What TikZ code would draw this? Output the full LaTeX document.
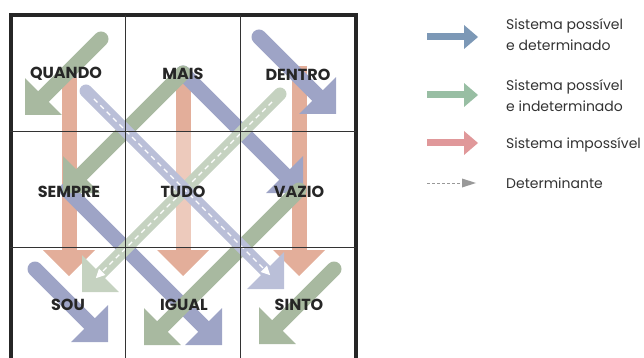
\documentclass[tikz,border=0pt]{standalone}
\usepackage{fontspec}
\setmainfont{Poppins}
\usetikzlibrary{arrows.meta,calc}

\definecolor{spdblue}{RGB}{158,164,198}
\definecolor{spiblue}{RGB}{186,191,216}
\definecolor{spigreen}{RGB}{168,185,160}
\definecolor{spilight}{RGB}{197,210,192}
\definecolor{sired}{RGB}{227,174,154}
\definecolor{sirlight}{RGB}{237,202,188}
\definecolor{legblue}{RGB}{124,152,182}
\definecolor{leggreen}{RGB}{152,190,163}
\definecolor{legred}{RGB}{224,152,154}

\begin{document}
\begin{tikzpicture}[x=1pt,y=-1pt,
    word/.style={
      font=\bfseries\fontsize{16}{16}\selectfont,
      text=black!85,inner sep=1pt
    },
    legtext/.style={
      font=\fontsize{14}{21}\selectfont,
      text=black!80,align=left,anchor=west,inner sep=0pt
    },
    bigarrow/.style={
      line width=15pt,
      -{Triangle[length=26pt,width=52pt,line width=0pt]}
    },
    diagarrow/.style={
      bigarrow,
      line cap=round
    },
    detarrow/.style={
      diagarrow,
      line width=13pt
    },
    detline/.style={
      white,line width=1.3pt,
      dash pattern=on 5pt off 4pt,
      -{Triangle[length=9pt,width=9pt,line width=0pt]}
    },
    legarrow/.style={
      line width=7pt,
      -{Triangle[length=14pt,width=24pt,line width=0pt]}
    },
    gridline/.style={
      black!80,line width=1pt
    }]

  \useasboundingbox (0,0) rectangle (644,358);
  \clip (0,0) rectangle (644,358);

  % arrow ends
  \coordinate (r1a) at (69,78);   \coordinate (r1b) at (69,276);
  \coordinate (r2a) at (183,83);  \coordinate (r2b) at (183,276);
  \coordinate (r3a) at (299,66);  \coordinate (r3b) at (299,276);
  \coordinate (r2m) at (183,131); \coordinate (r2n) at (183,247);

  \coordinate (b1a) at (259,37);  \coordinate (b1b) at (336,114);
  \coordinate (b2a) at (183,73);  \coordinate (b2b) at (303,193);
  \coordinate (b3a) at (67,190);  \coordinate (b3b) at (222,345);
  \coordinate (b4a) at (35,269);  \coordinate (b4b) at (108,342);
  \coordinate (bda) at (86,91);   \coordinate (bdb) at (284,289);

  \coordinate (g1a) at (101,39);  \coordinate (g1b) at (25,115);
  \coordinate (g2a) at (183,73);  \coordinate (g2b) at (63,193);
  \coordinate (g3a) at (299,190); \coordinate (g3b) at (144,345);
  \coordinate (g4a) at (334,269); \coordinate (g4b) at (259,344);
  \coordinate (gda) at (280,94);  \coordinate (gdb) at (82,292);

  % impossible
  \draw[bigarrow,sired] (r1a) -- (r1b);
  \draw[bigarrow,sired] (r2a) -- (r2b);
  \draw[bigarrow,sired] (r3a) -- (r3b);
  \draw[sirlight,line width=15pt] (r2m) -- (r2n);

  % possible and determined
  \draw[diagarrow,spdblue] (b1a) -- (b1b);
  \draw[diagarrow,spdblue] (b2a) -- (b2b);
  \draw[diagarrow,spdblue] (b3a) -- (b3b);
  \draw[diagarrow,spdblue] (b4a) -- (b4b);

  % possible and undetermined
  \draw[diagarrow,spigreen] (g1a) -- (g1b);
  \draw[diagarrow,spigreen] (g2a) -- (g2b);
  \draw[diagarrow,spigreen] (g3a) -- (g3b);
  \draw[diagarrow,spigreen] (g4a) -- (g4b);

  % determinant diagonals
  \draw[detarrow,spilight] (gda) -- (gdb);
  \draw[detline] ($(gda)!0.04!(gdb)$) -- ($(gda)!0.93!(gdb)$);
  \draw[detarrow,spiblue] (bda) -- (bdb);
  \draw[detline] ($(bda)!0.04!(bdb)$) -- ($(bda)!0.93!(bdb)$);

  % grid
  \draw[line width=4pt,black!85] (10.5,370) |- (355.5,15.5) -- (355.5,370);
  \foreach \x in {125.5,240.5}
    \draw[gridline] (\x,15) -- (\x,370);
  \foreach \y in {131.5,247.5}
    \draw[gridline] (10,\y) -- (356,\y);

  % words
  \node[word] (quando) at (66,74)  {QUANDO};
  \node[word] (mais)   at (183,74) {MAIS};
  \node[word] (dentro) at (298,75) {DENTRO};
  \node[word] (sempre) at (69,192) {SEMPRE};
  \node[word] (tudo)   at (183,192) {TUDO};
  \node[word] (vazio)  at (299,192) {VAZIO};
  \node[word] (sou)    at (68,305) {SOU};
  \node[word] (igual)  at (184,305) {IGUAL};
  \node[word] (sinto)  at (299,305) {SINTO};

  % legend
  \coordinate (l1a) at (427,37);  \coordinate (l1b) at (478,37);
  \coordinate (l2a) at (427,95);  \coordinate (l2b) at (478,95);
  \coordinate (l3a) at (427,143); \coordinate (l3b) at (478,143);
  \coordinate (l4a) at (427,183); \coordinate (l4b) at (476,183);
  \draw[legarrow,legblue]  (l1a) -- (l1b);
  \draw[legarrow,leggreen] (l2a) -- (l2b);
  \draw[legarrow,legred]   (l3a) -- (l3b);
  \draw[black!40,line width=1pt,dash pattern=on 3pt off 2pt,
        -{Triangle[length=14pt,width=9pt,line width=0pt]}] (l4a) -- (l4b);

  \node[legtext] (spd) at (506,35)  {Sistema possível\\e determinado};
  \node[legtext] (spi) at (506,96)  {Sistema possível\\e indeterminado};
  \node[legtext] (si)  at (506,145) {Sistema impossível};
  \node[legtext] (det) at (506,183) {Determinante};
\end{tikzpicture}
\end{document}
